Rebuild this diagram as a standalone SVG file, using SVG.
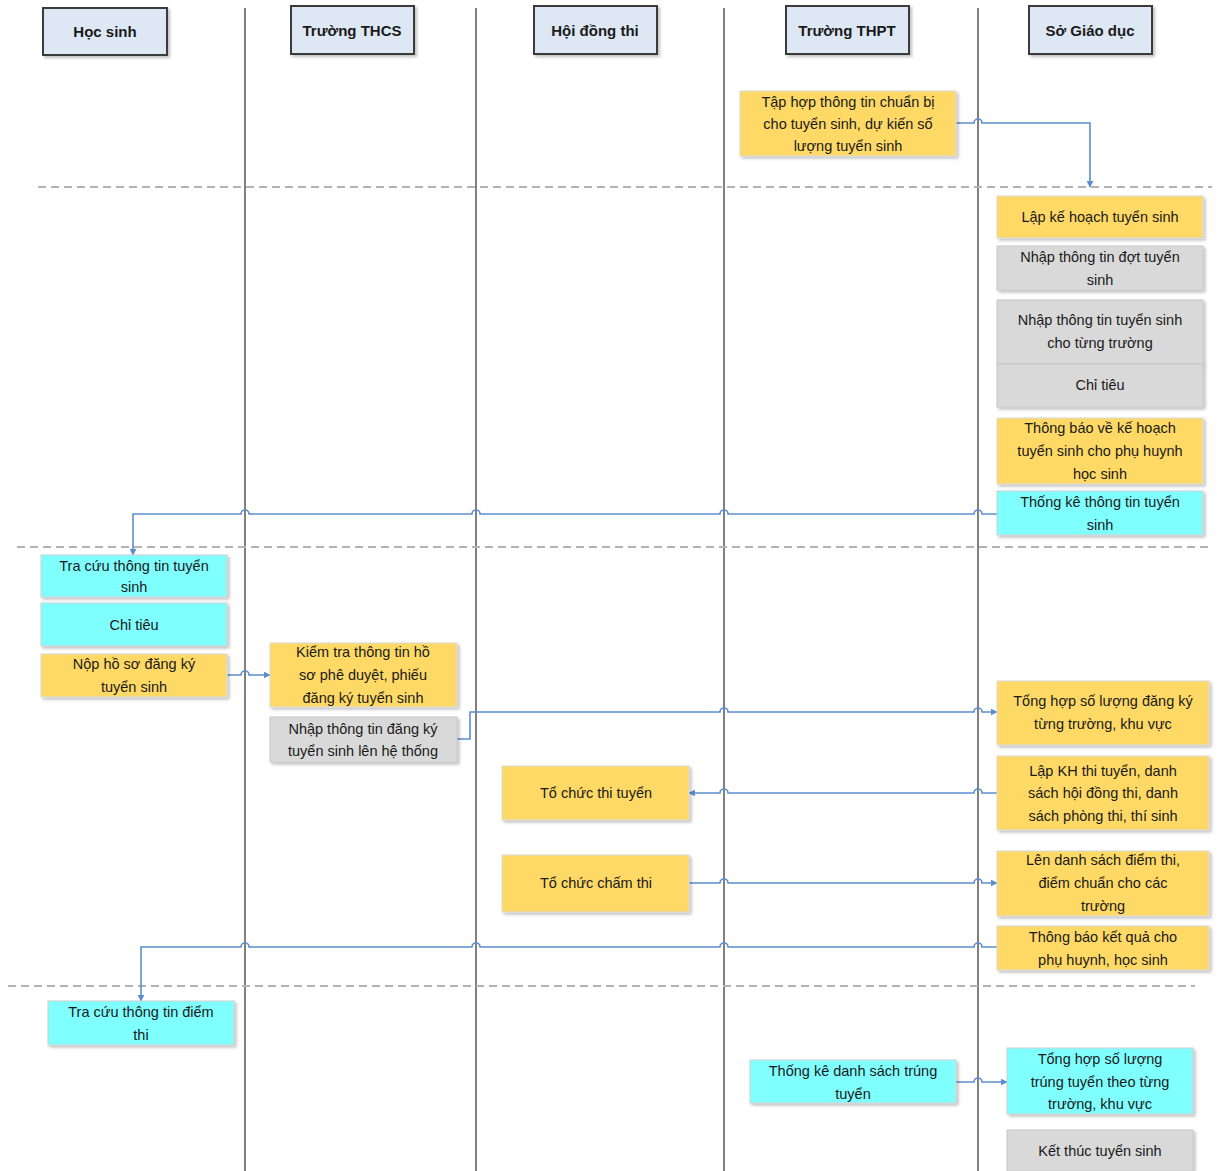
<svg xmlns="http://www.w3.org/2000/svg" width="1217" height="1171" viewBox="0 0 1217 1171">
<style>
text{font-family:"Liberation Sans",Arial,sans-serif;font-size:14.5px;fill:#1a1a1a;text-anchor:middle;dominant-baseline:central}
.hdr rect{fill:#dde8f4;stroke:#3a3a3a;stroke-width:2}
.hdr text{font-weight:bold;font-size:15px}
.y{fill:#ffd966;stroke:#d9d9d9;stroke-width:1}
.g{fill:#d9d9d9;stroke:#c8c8c8;stroke-width:1}
.c{fill:#80ffff;stroke:#d0d0d0;stroke-width:1}
.lane{stroke:#808080;stroke-width:2;fill:none}
.sep{stroke:#b3b3b3;stroke-width:2;stroke-dasharray:8,5;fill:none}
.con{stroke:#5b8fd0;stroke-width:1.6;fill:none}
</style>
<defs>
<filter id="sh" x="-10%" y="-10%" width="130%" height="130%">
<feDropShadow dx="2" dy="2" stdDeviation="1.5" flood-color="#000" flood-opacity="0.25"/>
</filter>
<marker id="ar" viewBox="0 0 10 10" refX="9" refY="5" markerWidth="7" markerHeight="7" orient="auto" markerUnits="userSpaceOnUse">
<path d="M0,0 L10,5 L0,10 z" fill="#5b8fd0"/>
</marker>
</defs>

<g id="lanes">
<line class="lane" x1="245" y1="8" x2="245" y2="1171"/>
<line class="lane" x1="476" y1="8" x2="476" y2="1171"/>
<line class="lane" x1="724" y1="8" x2="724" y2="1171"/>
<line class="lane" x1="978" y1="8" x2="978" y2="1171"/>
<line class="sep" x1="38" y1="187" x2="1212" y2="187"/>
<line class="sep" x1="17" y1="547" x2="1212" y2="547"/>
<line class="sep" x1="8" y1="986" x2="1195" y2="986"/>
</g>

<g id="headers" class="hdr">
<g id="h-hocsinh"><rect x="43" y="8" width="124" height="47" filter="url(#sh)"/><text x="105" y="31">Học sinh</text></g>
<g id="h-thcs"><rect x="291" y="6" width="123" height="48" filter="url(#sh)"/><text x="352" y="30">Trường THCS</text></g>
<g id="h-hdt"><rect x="534" y="6" width="123" height="48" filter="url(#sh)"/><text x="595" y="30">Hội đồng thi</text></g>
<g id="h-thpt"><rect x="786" y="6" width="123" height="48" filter="url(#sh)"/><text x="847" y="30">Trường THPT</text></g>
<g id="h-sgd"><rect x="1029" y="6" width="123" height="48" filter="url(#sh)"/><text x="1090" y="30">Sở Giáo dục</text></g>
</g>

<g id="connectors">
<path class="con" marker-end="url(#ar)" d="M956,123 L974,123 A4,4 0 0 1 982,123 L1090,123 L1090,187"/>
<path class="con" marker-end="url(#ar)" d="M997,514 L982,514 A4,4 0 0 0 974,514 L728,514 A4,4 0 0 0 720,514 L480,514 A4,4 0 0 0 472,514 L249,514 A4,4 0 0 0 241,514 L133,514 L133,555"/>
<path class="con" marker-end="url(#ar)" d="M227,675 L241,675 A4,4 0 0 1 249,675 L270,675"/>
<path class="con" marker-end="url(#ar)" d="M457,739 L470,739 L470,712 L720,712 A4,4 0 0 1 728,712 L974,712 A4,4 0 0 1 982,712 L997,712"/>
<path class="con" marker-end="url(#ar)" d="M997,793 L982,793 A4,4 0 0 0 974,793 L728,793 A4,4 0 0 0 720,793 L689,793"/>
<path class="con" marker-end="url(#ar)" d="M689,883 L720,883 A4,4 0 0 1 728,883 L974,883 A4,4 0 0 1 982,883 L997,883"/>
<path class="con" marker-end="url(#ar)" d="M997,947 L982,947 A4,4 0 0 0 974,947 L728,947 A4,4 0 0 0 720,947 L480,947 A4,4 0 0 0 472,947 L249,947 A4,4 0 0 0 241,947 L141,947 L141,1001"/>
<path class="con" marker-end="url(#ar)" d="M956,1082 L974,1082 A4,4 0 0 1 982,1082 L1007,1082"/>
</g>

<g id="n-taphop"><rect class="y" x="740" y="91" width="216" height="65" filter="url(#sh)"/><text x="848" y="102">Tập hợp thông tin chuẩn bị</text><text x="848" y="124">cho tuyển sinh, dự kiến số</text><text x="848" y="146">lượng tuyển sinh</text></g>
<g id="n-lapkh"><rect class="y" x="997" y="196" width="206" height="42" filter="url(#sh)"/><text x="1100" y="217">Lập kế hoạch tuyển sinh</text></g>
<g id="n-nhapdot"><rect class="g" x="997" y="246" width="206" height="44" filter="url(#sh)"/><text x="1100" y="257">Nhập thông tin đợt tuyển</text><text x="1100" y="280">sinh</text></g>
<g id="n-nhaptruong"><rect class="g" x="997" y="300" width="206" height="64" filter="url(#sh)"/><text x="1100" y="320">Nhập thông tin tuyển sinh</text><text x="1100" y="343">cho từng trường</text></g>
<g id="n-chitieu1"><rect class="g" x="997" y="364" width="206" height="43" filter="url(#sh)"/><text x="1100" y="385">Chỉ tiêu</text></g>
<g id="n-thongbao"><rect class="y" x="997" y="418" width="206" height="66" filter="url(#sh)"/><text x="1100" y="428">Thông báo về kế hoạch</text><text x="1100" y="451">tuyển sinh cho phụ huynh</text><text x="1100" y="474">học sinh</text></g>
<g id="n-thongke"><rect class="c" x="997" y="491" width="206" height="44" filter="url(#sh)"/><text x="1100" y="502">Thống kê thông tin tuyển</text><text x="1100" y="525">sinh</text></g>

<g id="n-tracuu"><rect class="c" x="41" y="555" width="186" height="42" filter="url(#sh)"/><text x="134" y="566">Tra cứu thông tin tuyển</text><text x="134" y="587">sinh</text></g>
<g id="n-chitieu2"><rect class="c" x="41" y="603" width="186" height="43" filter="url(#sh)"/><text x="134" y="625">Chỉ tiêu</text></g>
<g id="n-nophs"><rect class="y" x="41" y="654" width="186" height="43" filter="url(#sh)"/><text x="134" y="664">Nộp hồ sơ đăng ký</text><text x="134" y="687">tuyển sinh</text></g>
<g id="n-kiemtra"><rect class="y" x="270" y="643" width="187" height="64" filter="url(#sh)"/><text x="363" y="652">Kiểm tra thông tin hồ</text><text x="363" y="675">sơ phê duyệt, phiếu</text><text x="363" y="698">đăng ký tuyển sinh</text></g>
<g id="n-nhapdk"><rect class="g" x="270" y="717" width="187" height="45" filter="url(#sh)"/><text x="363" y="729">Nhập thông tin đăng ký</text><text x="363" y="751">tuyển sinh lên hệ thống</text></g>

<g id="n-tonghopdk"><rect class="y" x="997" y="681" width="212" height="64" filter="url(#sh)"/><text x="1103" y="701">Tổng hợp số lượng đăng ký</text><text x="1103" y="724">từng trường, khu vực</text></g>
<g id="n-lapkhthi"><rect class="y" x="997" y="756" width="212" height="74" filter="url(#sh)"/><text x="1103" y="771">Lập KH thi tuyển, danh</text><text x="1103" y="793">sách hội đồng thi, danh</text><text x="1103" y="816">sách phòng thi, thí sinh</text></g>
<g id="n-tochucthi"><rect class="y" x="502" y="766" width="187" height="54" filter="url(#sh)"/><text x="596" y="793">Tổ chức thi tuyển</text></g>
<g id="n-chamthi"><rect class="y" x="502" y="855" width="187" height="57" filter="url(#sh)"/><text x="596" y="883">Tổ chức chấm thi</text></g>
<g id="n-lendanh"><rect class="y" x="997" y="851" width="212" height="65" filter="url(#sh)"/><text x="1103" y="860">Lên danh sách điểm thi,</text><text x="1103" y="883">điểm chuẩn cho các</text><text x="1103" y="906">trường</text></g>
<g id="n-thongbaokq"><rect class="y" x="997" y="926" width="212" height="44" filter="url(#sh)"/><text x="1103" y="937">Thông báo kết quả cho</text><text x="1103" y="960">phụ huynh, học sinh</text></g>

<g id="n-tracuudiem"><rect class="c" x="48" y="1001" width="186" height="44" filter="url(#sh)"/><text x="141" y="1012">Tra cứu thông tin điểm</text><text x="141" y="1035">thi</text></g>
<g id="n-thongkeds"><rect class="c" x="750" y="1060" width="206" height="43" filter="url(#sh)"/><text x="853" y="1071">Thống kê danh sách trúng</text><text x="853" y="1094">tuyển</text></g>
<g id="n-tonghoptt"><rect class="c" x="1007" y="1048" width="186" height="66" filter="url(#sh)"/><text x="1100" y="1059">Tổng hợp số lượng</text><text x="1100" y="1082">trúng tuyển theo từng</text><text x="1100" y="1104">trường, khu vực</text></g>
<g id="n-ketthuc"><rect class="g" x="1007" y="1130" width="186" height="41" filter="url(#sh)"/><text x="1100" y="1151">Kết thúc tuyển sinh</text></g>
</svg>
